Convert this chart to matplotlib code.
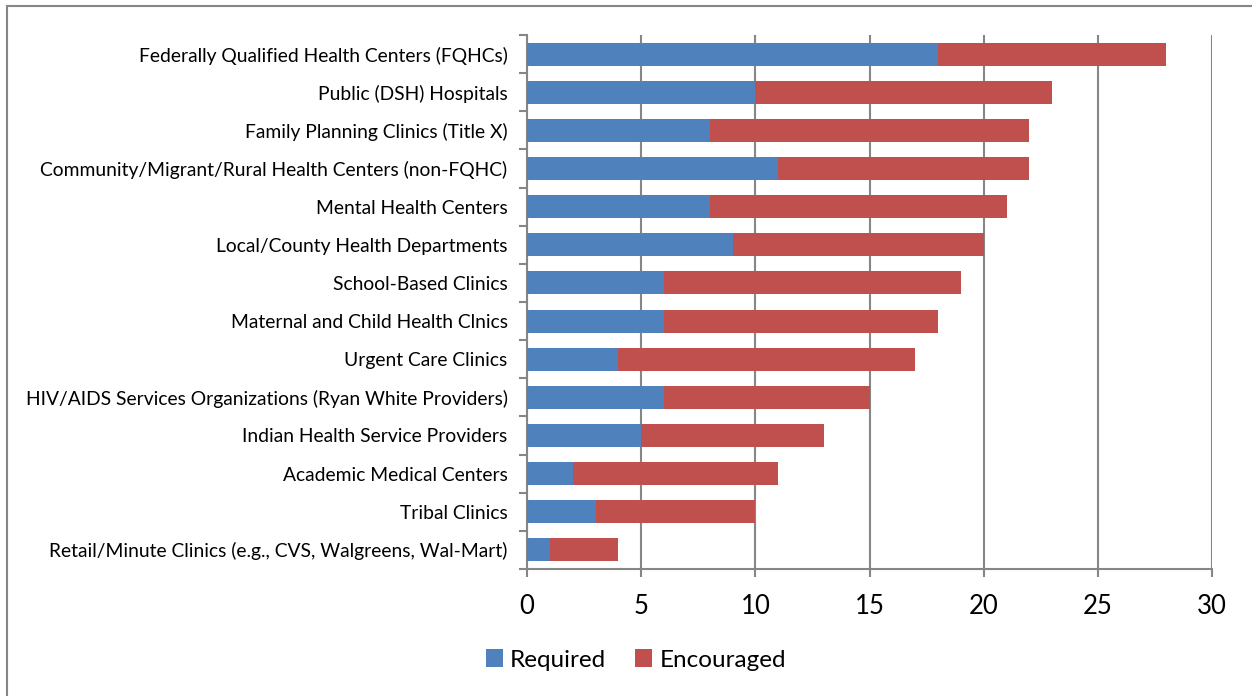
import numpy as np
import matplotlib.pyplot as plt
from matplotlib import patches

categories = [
    'Federally Qualified Health Centers (FQHCs)',
    'Public (DSH) Hospitals',
    'Family Planning Clinics (Title X)',
    'Community/Migrant/Rural Health Centers (non-FQHC)',
    'Mental Health Centers',
    'Local/County Health Departments',
    'School-Based Clinics',
    'Maternal and Child Health Clnics',
    'Urgent Care Clinics',
    'HIV/AIDS Services Organizations (Ryan White Providers)',
    'Indian Health Service Providers',
    'Academic Medical Centers',
    'Tribal Clinics',
    'Retail/Minute Clinics (e.g., CVS, Walgreens, Wal-Mart)',
]
required = [18, 10, 8, 11, 8, 9, 6, 6, 4, 6, 5, 2, 3, 1]
encouraged = [10, 13, 14, 11, 13, 11, 13, 12, 13, 9, 8, 9, 7, 3]

plt.rcParams['font.family'] = ['Lato', 'DejaVu Sans']
grid_col = '#868686'

fig = plt.figure(figsize=(12.52, 6.96), dpi=100)
ax = fig.add_axes([527/1252, 1 - 569/696, (1212-527)/1252, (569-35)/696])

y = np.arange(len(categories))[::-1]
ax.barh(y, required, height=0.6, color='#4F81BD', label='Required', zorder=3)
ax.barh(y, encouraged, left=required, height=0.6, color='#C0504D', label='Encouraged', zorder=3)

ax.set_xlim(0, 30)
ax.set_ylim(-0.5, len(categories) - 0.5)
ax.set_xticks(range(0, 31, 5))
ax.tick_params(axis='x', labelsize=18.5, length=6, width=1.5, color=grid_col, pad=12)
ax.xaxis.grid(True, color=grid_col, lw=1.5, zorder=0)

ax.set_yticks(y)
ax.set_yticklabels(categories, fontsize=13.9)
ax.tick_params(axis='y', which='major', length=0, pad=14)
ax.set_yticks(np.arange(-0.5, len(categories), 1), minor=True)
ax.tick_params(axis='y', which='minor', length=6, width=1.5, color=grid_col, direction='out')

for s in ['top', 'right']:
    ax.spines[s].set_visible(False)
for s in ['left', 'bottom']:
    ax.spines[s].set_color(grid_col)
    ax.spines[s].set_linewidth(1.5)

ax.legend(loc='center', bbox_to_anchor=(636/1252, 1 - 660/696), bbox_transform=fig.transFigure,
          ncol=2, frameon=False, fontsize=17.5, handlelength=0.7, handleheight=0.7,
          handletextpad=0.3, columnspacing=1.2)

fig.patches.append(patches.Rectangle((7/1252, -0.1), 1.2, 1 - 6/696 + 0.1,
                                     transform=fig.transFigure, fill=False,
                                     edgecolor=grid_col, lw=1.5))

fig.savefig('out.png', dpi=100)
